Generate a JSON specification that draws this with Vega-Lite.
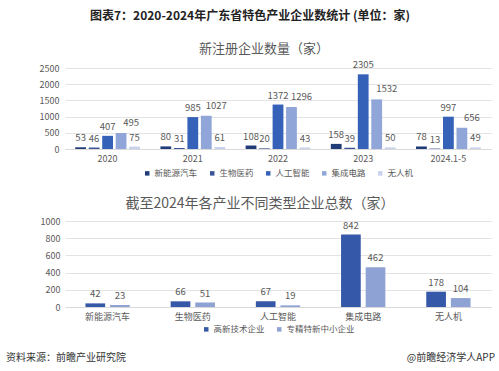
{
  "$schema": "https://vega.github.io/schema/vega-lite/v6.json",
  "padding": {"left": 5, "top": 10, "right": 5, "bottom": 2},
  "background": "white",
  "config": {
    "font": "Noto Sans CJK SC",
    "view": {"stroke": null},
    "axis": {"labelColor": "#595959", "labelFontSize": 9, "gridColor": "#e3e3e3", "domainColor": "#d9d9d9", "ticks": false},
    "legend": {"labelColor": "#595959", "labelFontSize": 8.5, "symbolType": "square", "symbolSize": 20, "columnPadding": 10, "labelOffset": 3, "symbolStrokeWidth": 0, "layout": {"bottom": {"anchor": "middle"}}}
  },
  "title": {"text": "图表7：2020-2024年广东省特色产业企业数统计 (单位：家)", "fontSize": 12, "fontWeight": "bold", "color": "#222222", "anchor": "middle", "offset": 20},
  "datasets": {
    "reg": [
      {"year": "2020", "industry": "新能源汽车", "n": 53},
      {"year": "2020", "industry": "生物医药", "n": 46},
      {"year": "2020", "industry": "人工智能", "n": 407},
      {"year": "2020", "industry": "集成电路", "n": 495},
      {"year": "2020", "industry": "无人机", "n": 75},
      {"year": "2021", "industry": "新能源汽车", "n": 80},
      {"year": "2021", "industry": "生物医药", "n": 31},
      {"year": "2021", "industry": "人工智能", "n": 985},
      {"year": "2021", "industry": "集成电路", "n": 1027},
      {"year": "2021", "industry": "无人机", "n": 61},
      {"year": "2022", "industry": "新能源汽车", "n": 108},
      {"year": "2022", "industry": "生物医药", "n": 20},
      {"year": "2022", "industry": "人工智能", "n": 1372},
      {"year": "2022", "industry": "集成电路", "n": 1296},
      {"year": "2022", "industry": "无人机", "n": 43},
      {"year": "2023", "industry": "新能源汽车", "n": 158},
      {"year": "2023", "industry": "生物医药", "n": 39},
      {"year": "2023", "industry": "人工智能", "n": 2305},
      {"year": "2023", "industry": "集成电路", "n": 1532},
      {"year": "2023", "industry": "无人机", "n": 50},
      {"year": "2024.1-5", "industry": "新能源汽车", "n": 78},
      {"year": "2024.1-5", "industry": "生物医药", "n": 13},
      {"year": "2024.1-5", "industry": "人工智能", "n": 997},
      {"year": "2024.1-5", "industry": "集成电路", "n": 656},
      {"year": "2024.1-5", "industry": "无人机", "n": 49}
    ],
    "tot": [
      {"industry": "新能源汽车", "type": "高新技术企业", "n": 42},
      {"industry": "新能源汽车", "type": "专精特新中小企业", "n": 23},
      {"industry": "生物医药", "type": "高新技术企业", "n": 66},
      {"industry": "生物医药", "type": "专精特新中小企业", "n": 51},
      {"industry": "人工智能", "type": "高新技术企业", "n": 67},
      {"industry": "人工智能", "type": "专精特新中小企业", "n": 19},
      {"industry": "集成电路", "type": "高新技术企业", "n": 842},
      {"industry": "集成电路", "type": "专精特新中小企业", "n": 462},
      {"industry": "无人机", "type": "高新技术企业", "n": 178},
      {"industry": "无人机", "type": "专精特新中小企业", "n": 104}
    ],
    "foot": [
      {"pos": 0, "text": "资料来源：前瞻产业研究院"},
      {"pos": 1, "text": "@前瞻经济学人APP"}
    ]
  },
  "vconcat": [
    {
      "title": {"text": "新注册企业数量（家）", "fontSize": 13, "fontWeight": "normal", "color": "#595959", "offset": 4, "frame": "group", "dx": -14},
      "data": {"name": "reg"},
      "width": 426,
      "height": 81,
      "encoding": {
        "x": {"field": "year", "type": "nominal", "scale": {"domain": ["2020", "2021", "2022", "2023", "2024.1-5"], "paddingInner": 0.24, "paddingOuter": 0.12}, "axis": {"title": null, "labelAngle": 0, "labelPadding": 5, "grid": false}},
        "xOffset": {"field": "industry", "type": "nominal", "scale": {"domain": ["新能源汽车", "生物医药", "人工智能", "集成电路", "无人机"], "paddingInner": 0.2}},
        "y": {"field": "n", "type": "quantitative", "scale": {"domain": [0, 2500]}, "axis": {"title": " ", "titleFontSize": 1, "titlePadding": 33, "values": [0, 500, 1000, 1500, 2000, 2500], "format": "d", "domain": false, "labelPadding": 6}}
      },
      "layer": [
        {
          "mark": {"type": "bar"},
          "encoding": {
            "color": {"field": "industry", "type": "nominal",
              "scale": {"domain": ["新能源汽车", "生物医药", "人工智能", "集成电路", "无人机"], "range": ["#1f3c78", "#3b5598", "#3562b8", "#91a6d8", "#c8d2ec"]},
              "legend": {"title": null, "orient": "bottom", "direction": "horizontal", "offset": 6}}
          }
        },
        {
          "transform": [{"filter": "datum.industry != '集成电路'"}],
          "mark": {"type": "text", "baseline": "bottom", "dy": -4, "fontSize": 9.5, "color": "#595959"},
          "encoding": {"text": {"field": "n", "type": "quantitative"}}
        },
        {
          "transform": [{"filter": "datum.industry == '集成电路'"}],
          "mark": {"type": "text", "baseline": "bottom", "dy": -5, "dx": 10, "fontSize": 9.5, "color": "#595959"},
          "encoding": {"text": {"field": "n", "type": "quantitative"}}
        }
      ]
    },
    {
      "title": {"text": "截至2024年各产业不同类型企业总数（家）", "fontSize": 14, "fontWeight": "normal", "color": "#595959", "offset": 6, "frame": "group", "dx": -18},
      "data": {"name": "tot"},
      "width": 426,
      "height": 86,
      "encoding": {
        "x": {"field": "industry", "type": "nominal", "scale": {"domain": ["新能源汽车", "生物医药", "人工智能", "集成电路", "无人机"], "paddingInner": 0.48, "paddingOuter": 0.24}, "axis": {"title": null, "labelAngle": 0, "labelPadding": 5, "grid": false}},
        "xOffset": {"field": "type", "type": "nominal", "scale": {"domain": ["高新技术企业", "专精特新中小企业"], "paddingInner": 0.2}},
        "y": {"field": "n", "type": "quantitative", "scale": {"domain": [0, 1000]}, "axis": {"title": " ", "titleFontSize": 1, "titlePadding": 26, "values": [0, 200, 400, 600, 800, 1000], "format": "d", "domain": false, "labelPadding": 5}}
      },
      "layer": [
        {
          "mark": {"type": "bar"},
          "encoding": {
            "color": {"field": "type", "type": "nominal",
              "scale": {"domain": ["高新技术企业", "专精特新中小企业"], "range": ["#3558a8", "#8ea2d4"]},
              "legend": {"title": null, "orient": "bottom", "direction": "horizontal", "offset": 4}}
          }
        },
        {
          "mark": {"type": "text", "baseline": "bottom", "dy": -4, "fontSize": 9.5, "color": "#595959"},
          "encoding": {"text": {"field": "n", "type": "quantitative"}}
        }
      ]
    },
    {
      "data": {"name": "foot"},
      "width": 430,
      "height": 4,
      "encoding": {
        "x": {"field": "pos", "type": "quantitative", "scale": {"domain": [0, 1], "range": [-59, 430]}, "axis": null},
        "text": {"field": "text", "type": "nominal"}
      },
      "layer": [
        {"transform": [{"filter": "datum.pos == 0"}], "mark": {"type": "text", "align": "left", "baseline": "middle", "fontSize": 10, "color": "#333333"}},
        {"transform": [{"filter": "datum.pos == 1"}], "mark": {"type": "text", "align": "right", "baseline": "middle", "fontSize": 10, "color": "#333333"}}
      ]
    }
  ],
  "spacing": 19,
  "resolve": {"scale": {"color": "independent", "x": "independent", "xOffset": "independent", "y": "independent"}}
}
